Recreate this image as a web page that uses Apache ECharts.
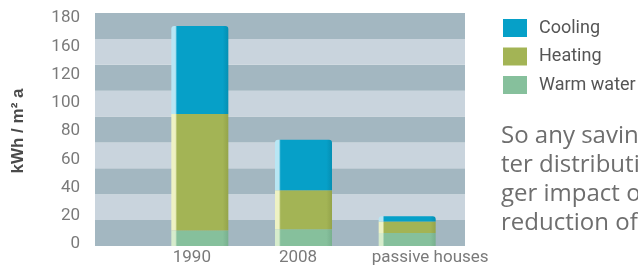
<!DOCTYPE html>
<html><head><meta charset="utf-8">
<script src="https://cdn.jsdelivr.net/npm/echarts@6/dist/echarts.min.js"></script>
<style>html,body{margin:0;padding:0;background:#fff}#c{width:638px;height:270px}</style>
</head><body><div id="c"></div>
<script>
const categories = ['1990', '2008', 'passive houses'];
const warmWater = [12, 13, 10];
const heating = [90, 30, 9];
const cooling = [68, 39, 4];
const yTickLabels = ['0', '20', '40', '60', '80', '100', '120', '160', '180'];
const legendNames = ['Cooling', 'Heating', 'Warm water'];
const paragraph = ['So any savings', 'ter distribution', 'ger impact on', 'reduction of the'];

const chart = echarts.init(document.getElementById('c'), null, {renderer: 'canvas'});
function grad(light, base, dark) {
  return new echarts.graphic.LinearGradient(0, 0, 1, 0, [
    {offset: 0, color: light}, {offset: 0.07, color: light}, {offset: 0.1, color: base},
    {offset: 0.9, color: base}, {offset: 1, color: dark}]);
}
const solid = {'Cooling': '#06a0c8', 'Heating': '#a3b455', 'Warm water': '#86c09c'};
const labelShift = [[0, 16, 0, 0], [0, 11, 0, 0], [0, 0, 0, 46]];
chart.setOption({
  animation: false,
  grid: [
    {left: 95, right: 173, top: 13, bottom: 24},
    {left: 148, right: 179, top: 13, bottom: 24},
    {left: 95, right: 173, top: 18, bottom: 26}
  ],
  xAxis: [
    {gridIndex: 0, type: 'value', show: false},
    {gridIndex: 1, type: 'category', data: categories.map((c, i) => ({value: c, textStyle: {padding: labelShift[i]}})),
      axisLine: {show: false}, axisTick: {show: false},
      axisLabel: {interval: 0, margin: 3, color: '#7a7a7a', fontSize: 17, fontFamily: 'Roboto'}},
    {gridIndex: 2, type: 'value', show: false}
  ],
  yAxis: [
    {gridIndex: 0, type: 'value', min: 0, max: 180, interval: 20,
      axisLine: {show: false}, axisTick: {show: false}, axisLabel: {show: false},
      splitLine: {show: false},
      splitArea: {show: true, areaStyle: {color: ['#a3b7c1', '#c9d4dd']}}},
    {gridIndex: 1, type: 'value', min: 0, max: 180, interval: 20, show: false},
    {gridIndex: 2, type: 'value', min: 0, max: 8, interval: 1,
      axisLine: {show: false}, axisTick: {show: false}, splitLine: {show: false},
      axisLabel: {margin: 15, color: '#7a7a7a', fontSize: 17, fontFamily: 'Roboto',
        formatter: v => yTickLabels[v]},
      name: 'kWh / m² a', nameLocation: 'middle', nameRotate: 90, nameGap: 68,
      nameTextStyle: {fontSize: 17, fontWeight: 'bold', color: '#4a4a4a', fontFamily: 'Liberation Sans'}}
  ],
  legend: {
    orient: 'vertical', left: 498, top: 14, itemWidth: 24, itemHeight: 18, itemGap: 10.5,
    icon: 'rect', data: legendNames.map(n => ({name: n, itemStyle: {color: solid[n]}})),
    textStyle: {fontSize: 18, color: '#555', fontFamily: 'Roboto', padding: [0, 0, 0, 7]}
  },
  series: [
    {name: legendNames[2], type: 'bar', stack: 't', xAxisIndex: 1, yAxisIndex: 1, barWidth: 57, data: warmWater,
      itemStyle: {color: grad('#d6eccc', '#86c09c', '#78b08e')}},
    {name: legendNames[1], type: 'bar', stack: 't', xAxisIndex: 1, yAxisIndex: 1, barWidth: 57, data: heating,
      itemStyle: {color: grad('#eef2c4', '#a3b455', '#94a44a')}},
    {name: legendNames[0], type: 'bar', stack: 't', xAxisIndex: 1, yAxisIndex: 1, barWidth: 57, data: cooling,
      itemStyle: {color: grad('#b8e6f4', '#06a0c8', '#058fb3'), borderRadius: [3, 3, 0, 0]}}
  ],
  graphic: [{
    type: 'text', left: 501, top: 122,
    style: {text: paragraph.join('\n'), fontSize: 24, lineHeight: 29, fill: '#6e6e6e', fontFamily: 'Open Sans'}
  }]
});
</script></body></html>
